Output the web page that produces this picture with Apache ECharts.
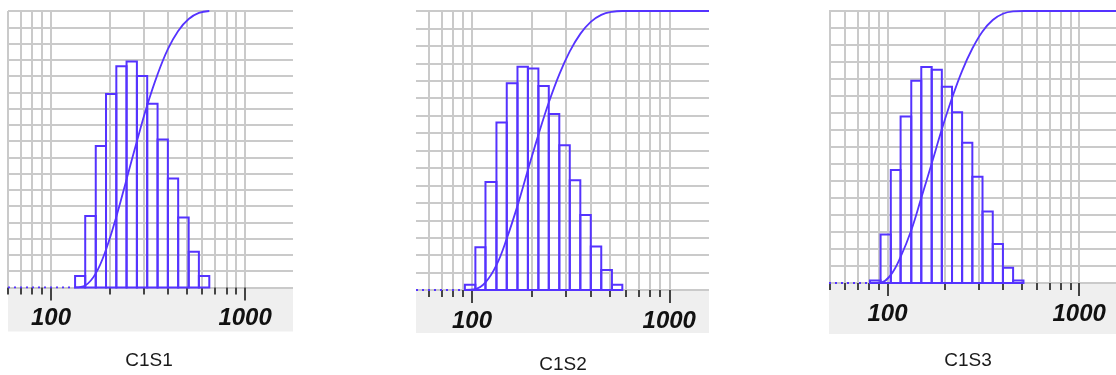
<!DOCTYPE html>
<html>
<head>
<meta charset="utf-8">
<script src="https://cdn.jsdelivr.net/npm/echarts@6/dist/echarts.min.js"></script>
<style>
    html, body { margin: 0; padding: 0; background: #fff; }
    #main { width: 1116px; height: 375px; }
</style>
</head>
<body>
<div id="main"></div>
<script>
    // sample names
    const panelNames = ['C1S1', 'C1S2', 'C1S3'];

    // bin edges (size, log scale)
    const edges1 = [133, 150, 170, 192, 217, 245, 277, 313, 354, 400, 452, 512, 578, 654];
    const edges2 = [92, 104, 117, 133, 150, 170, 192, 217, 245, 277, 313, 354, 400, 452, 512, 578];
    const edges3 = [81, 92, 104, 117, 133, 150, 170, 192, 217, 245, 277, 313, 354, 400, 452, 512];

    // % per bin
    const hist1 = [0.7, 4.4, 8.7, 11.9, 13.6, 13.9, 13.0, 11.3, 9.1, 6.7, 4.3, 2.2, 0.7];
    const hist2 = [0.3, 2.45, 6.2, 9.6, 11.85, 12.8, 12.7, 11.7, 10.1, 8.3, 6.3, 4.3, 2.5, 1.15, 0.3];
    const hist3 = [0.15, 2.85, 6.65, 9.8, 11.9, 12.7, 12.55, 11.55, 10.05, 8.25, 6.25, 4.2, 2.3, 0.9, 0.15];

    // cumulative % at each edge
    const cum1 = [0, 0.7, 5.1, 13.7, 25.6, 39.1, 52.9, 65.9, 77.1, 86.2, 92.8, 97.1, 99.3, 100];
    const cum2 = [0, 0.3, 2.7, 8.9, 18.4, 30.2, 43.0, 55.6, 67.2, 77.3, 85.5, 91.8, 96.1, 98.6, 99.7, 100];
    const cum3 = [0, 0.15, 3.0, 9.6, 19.4, 31.3, 43.9, 56.5, 68.0, 78.0, 86.2, 92.5, 96.7, 99.0, 99.85, 100];

    // axis ranges
    const xMin = [60, 52, 49.5];
    const xMax = [1766, 1590, 1556];
    const yMax = [17, 16, 16];
    const minorTicks = [50, 60, 70, 80, 90, 200, 300, 400, 500, 600, 700, 800, 900];
    const majorTicks = [100, 1000];

    const blue = '#5533ff';
    const gridColor = '#cacaca';
    const tickColor = '#444';

    // pixel layout of each panel
    const layout = [
        {left: 8, top: 11, width: 285, height: 276.5, band: 44, titleX: 149, titleY: 361, flat: false},
        {left: 416, top: 11, width: 293, height: 279, band: 43, titleX: 563, titleY: 365, flat: true},
        {left: 829, top: 11, width: 287, height: 272, band: 51, titleX: 968, titleY: 361, flat: true}
    ];

    const panels = [
        {edges: edges1, hist: hist1, cum: cum1},
        {edges: edges2, hist: hist2, cum: cum2},
        {edges: edges3, hist: hist3, cum: cum3}
    ];

    function renderBin(params, api) {
        let p0 = api.coord([api.value(0), api.value(2)])
        let p1 = api.coord([api.value(1), 0])
        return {
            type: 'rect',
            shape: {x: p0[0], y: p0[1], width: p1[0] - p0[0], height: p1[1] - p0[1]},
            style: {fill: 'none', stroke: blue, lineWidth: 2}
        }
    }

    let grid = [], xAxis = [], yAxis = [], series = [], graphic = []

    panels.forEach((p, i) => {
        let l = layout[i]
        grid.push({left: l.left, top: l.top, width: l.width, height: l.height, outerBoundsMode: 'none'})

        let minor = minorTicks.filter(v => v >= xMin[i] && v <= xMax[i])
        xAxis.push({
            type: 'log', gridIndex: i, min: xMin[i], max: xMax[i], position: 'bottom',
            axisLine: {show: false},
            axisTick: {show: true, customValues: minor, length: 7, lineStyle: {color: tickColor, width: 2}},
            axisLabel: {show: false},
            minorTick: {show: false},
            splitLine: {show: true, lineStyle: {color: gridColor, width: 2}}
        })
        xAxis.push({
            type: 'log', gridIndex: i, min: xMin[i], max: xMax[i], position: 'bottom',
            axisLine: {show: false},
            axisTick: {show: true, customValues: majorTicks, length: 13, lineStyle: {color: tickColor, width: 2}},
            axisLabel: {
                customValues: majorTicks, margin: 19, color: '#111',
                fontSize: 24, fontWeight: 'bold', fontStyle: 'italic', fontFamily: 'Liberation Sans, Arial',
                formatter: v => String(v)
            },
            splitLine: {show: true, lineStyle: {color: gridColor, width: 2}}
        })

        yAxis.push({
            type: 'value', gridIndex: i, min: 0, max: yMax[i], interval: 1,
            axisLine: {show: false}, axisTick: {show: false}, axisLabel: {show: false},
            splitLine: {show: true, lineStyle: {color: gridColor, width: 2}}
        })
        yAxis.push({
            type: 'value', gridIndex: i, min: 0, max: 100, show: false
        })

        let bins = p.hist.map((h, k) => [p.edges[k], p.edges[k + 1], h])
        series.push({
            type: 'custom', xAxisIndex: 2 * i, yAxisIndex: 2 * i, z: 3,
            renderItem: renderBin, encode: {x: [0, 1], y: 2}, data: bins
        })

        let curve = p.cum.map((c, k) => [p.edges[k], c])
        if (l.flat) curve.push([xMax[i], 100])
        series.push({
            type: 'line', xAxisIndex: 2 * i, yAxisIndex: 2 * i + 1, z: 4,
            smooth: 0.4, symbol: 'none',
            lineStyle: {color: blue, width: 1.8}, data: curve
        })
        series.push({
            type: 'line', xAxisIndex: 2 * i, yAxisIndex: 2 * i + 1, z: 4, symbol: 'none',
            lineStyle: {color: blue, width: 1.8, type: [2, 4]},
            data: [[xMin[i], 0], [p.edges[0], 0]]
        })

        graphic.push({
            type: 'rect', z: -10,
            shape: {x: l.left, y: l.top + l.height, width: l.width, height: l.band},
            style: {fill: '#efefef'}
        })
        graphic.push({
            type: 'text', x: l.titleX, y: l.titleY,
            style: {
                text: panelNames[i], fill: '#1a1a1a', fontSize: 19,
                fontFamily: 'Liberation Sans, Arial', align: 'center', verticalAlign: 'middle'
            }
        })
    })

    let myChart = echarts.init(document.getElementById('main'))
    myChart.setOption({
        animation: false,
        backgroundColor: '#fff',
        grid, xAxis, yAxis, series, graphic
    })
</script>
</body>
</html>
